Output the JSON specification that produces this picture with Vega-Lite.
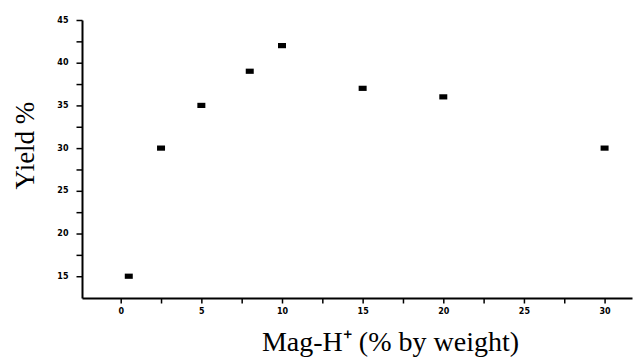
{
  "$schema": "https://vega.github.io/schema/vega-lite/v6.json",
  "width": 550,
  "height": 278,
  "autosize": {"type": "none"},
  "padding": {"left": 82, "top": 20, "right": 3, "bottom": 60},
  "background": "white",
  "config": {"view": {"stroke": null}, "axis": {"ticks": true, "tickColor": "black", "tickWidth": 1.5, "tickRound": false, "grid": false, "domainColor": "black", "domainWidth": 2}},
  "data": {"values": [
    {"load": 0.5, "yield": 15},
    {"load": 2.5, "yield": 30},
    {"load": 5, "yield": 35},
    {"load": 8, "yield": 39},
    {"load": 10, "yield": 42},
    {"load": 15, "yield": 37},
    {"load": 20, "yield": 36},
    {"load": 30, "yield": 30}
  ]},
  "mark": {"type": "point", "shape": "M-1,-0.65H1V0.65H-1Z", "filled": true, "color": "black", "size": 64, "opacity": 1},
  "encoding": {
    "x": {"field": "load", "type": "quantitative",
      "scale": {"domain": [-2.4, 31.7], "nice": false, "zero": false},
      "axis": {"orient": "bottom", "values": [0, 2.5, 5, 7.5, 10, 12.5, 15, 17.5, 20, 22.5, 25, 27.5, 30],
        "tickSize": 5, "tickRound": false,
        "labelExpr": "datum.value % 5 == 0 ? datum.label : ''",
        "labelFont": "DejaVu Sans", "labelFontSize": 8, "labelFontWeight": "bold", "labelColor": "black", "labelPadding": 4,
        "title": "Mag-H⁺ (% by weight)", "titleFont": "Liberation Serif", "titleFontSize": 28, "titleFontWeight": "normal", "titleColor": "black",
        "titleX": 308, "titleY": 52, "titleAlign": "center", "titleBaseline": "alphabetic"}},
    "y": {"field": "yield", "type": "quantitative",
      "scale": {"domain": [12.45, 45], "nice": false, "zero": false},
      "axis": {"orient": "left", "values": [15, 17.5, 20, 22.5, 25, 27.5, 30, 32.5, 35, 37.5, 40, 42.5, 45],
        "tickSize": 6, "tickRound": false,
        "labelExpr": "datum.value % 5 == 0 ? datum.label : ''",
        "labelFont": "DejaVu Sans", "labelFontSize": 8, "labelFontWeight": "bold", "labelColor": "black", "labelPadding": 8,
        "title": "Yield %", "titleFont": "Liberation Serif", "titleFontSize": 27, "titleFontWeight": "normal", "titleColor": "black",
        "titleX": -49, "titleY": 125, "titleAlign": "center", "titleBaseline": "alphabetic", "titleAngle": -90}}
  }
}
